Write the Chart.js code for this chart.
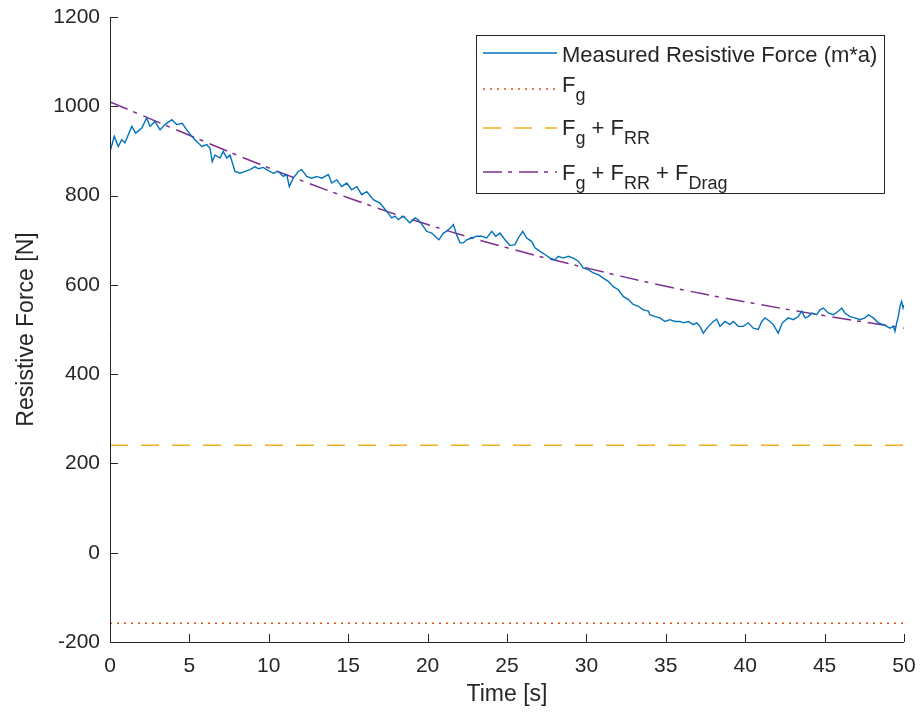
<!DOCTYPE html>
<html>
<head>
<meta charset="utf-8">
<script src="https://cdn.jsdelivr.net/npm/chart.js@4.4.1/dist/chart.umd.min.js"></script>
<style>
  html, body { margin: 0; padding: 0; background: #fff; }
</style>
</head>
<body>
<canvas id="force-chart" width="921" height="719"></canvas>
<script>
// measured resistive force (m*a)
const measuredTime = [0, 0.27, 0.52, 0.74, 0.94, 1.37, 1.62, 2.0, 2.31, 2.52, 2.83, 3.15, 3.46, 3.89, 4.2, 4.55, 4.83,
  5.14, 5.56, 5.77, 6.09, 6.3, 6.44, 6.61, 6.93, 7.13, 7.35, 7.56, 7.87, 8.19, 8.5, 8.82, 9.13, 9.34, 9.65, 9.97,
  10.28, 10.6, 10.91, 11.13, 11.29, 11.54, 11.86, 12.07, 12.39, 12.7, 13.02, 13.33, 13.75, 13.96, 14.28, 14.59, 14.91,
  15.22, 15.54, 15.85, 16.17, 16.58, 17.0, 17.42, 17.74, 17.95, 18.15, 18.47, 18.68, 18.89, 19.21, 19.41, 19.73, 19.94,
  20.26, 20.47, 20.72, 20.99, 21.2, 21.41, 21.62, 21.83, 22.04, 22.25, 22.46, 22.78, 23.09, 23.41, 23.72, 24.04, 24.29,
  24.56, 24.87, 25.19, 25.5, 25.71, 25.99, 26.24, 26.56, 26.76, 27.08, 27.39, 27.71, 28.02, 28.23, 28.54, 28.86, 29.17,
  29.49, 29.8, 30.12, 30.43, 30.75, 31.06, 31.38, 31.69, 32.01, 32.32, 32.64, 32.95, 33.27, 33.58, 33.9, 34.0, 34.32,
  34.63, 34.95, 35.26, 35.58, 35.89, 36.1, 36.42, 36.73, 36.95, 37.15, 37.36, 37.68, 37.99, 38.2, 38.41, 38.73, 39.04,
  39.25, 39.57, 39.88, 40.19, 40.51, 40.82, 41.04, 41.25, 41.56, 41.77, 42.08, 42.34, 42.71, 43.03, 43.34, 43.56, 43.77,
  43.97, 44.19, 44.5, 44.71, 44.92, 45.23, 45.55, 45.86, 46.08, 46.28, 46.6, 46.91, 47.23, 47.54, 47.75, 48.07, 48.38,
  48.7, 48.91, 49.12, 49.33, 49.43, 49.54, 49.64, 49.75, 49.85, 49.94, 50];
const measuredForce = [898, 933, 910, 925, 918, 955, 940, 951, 974, 955, 966, 947, 959, 970, 959, 962, 947,
  933, 918, 910, 914, 906, 876, 891, 884, 899, 884, 891, 854, 850, 854, 858, 865, 860, 863, 856,
  850, 854, 843, 847, 820, 839, 854, 858, 843, 839, 843, 839, 847, 828, 835, 820, 828,
  813, 820, 802, 809, 791, 783, 765, 750, 754, 746, 754, 746, 739, 750, 746, 731, 720,
  716, 709, 701, 716, 720, 727, 735, 712, 694, 694, 701, 705, 709, 709, 705, 720, 709,
  716, 701, 688, 690, 705, 720, 705, 697, 683, 675, 668, 660, 656, 664, 660, 664, 660,
  653, 638, 634, 627, 623, 615, 608, 596, 589, 574, 567, 556, 552, 544, 541, 533, 529,
  526, 518, 522, 518, 518, 515, 518, 511, 515, 507, 492, 507, 518, 523, 507, 518, 511,
  518, 507, 507, 515, 503, 500, 518, 526, 518, 511, 492, 515, 526, 522, 529, 541, 526,
  529, 537, 533, 544, 548, 537, 533, 541, 548, 537, 529, 526, 522, 526, 533, 526, 515,
  511, 507, 503, 507, 496, 515, 529, 552, 563, 548, 555];

// model: Fg + FRR + FDrag
const dragTime = [0, 5, 10, 15, 20, 25, 30, 35, 40, 45, 50];
const dragForce = [1010, 935, 862, 795, 735, 683, 638, 597, 562, 531, 503];

// constant model terms
const gravityForce = -158;
const gravityRollingForce = 241;
const timeRange = [0, 50];

const textColor = '#262626';
const blue = '#0072BD', orange = '#D95319', yellow = '#EDB120', purple = '#7E2F8E';
const fontFamily = '"Liberation Sans", Arial, sans-serif';

const toPoints = (xs, ys) => xs.map((x, i) => ({ x: x, y: ys[i] }));
const flatLine = v => timeRange.map(t => ({ x: t, y: v }));

// MATLAB-style axes: left + bottom lines with inward ticks
const axesPlugin = {
  id: 'matlabAxes',
  afterDatasetsDraw(chart) {
    const { ctx, chartArea: a, scales: { x, y } } = chart;
    ctx.save();
    ctx.strokeStyle = textColor;
    ctx.lineWidth = 1;
    ctx.beginPath();
    ctx.moveTo(a.left + 0.5, a.top);
    ctx.lineTo(a.left + 0.5, a.bottom + 0.5);
    ctx.lineTo(a.right, a.bottom + 0.5);
    x.ticks.forEach(t => {
      const px = Math.round(x.getPixelForValue(t.value)) + 0.5;
      ctx.moveTo(px, a.bottom);
      ctx.lineTo(px, a.bottom - 8);
    });
    y.ticks.forEach(t => {
      const py = Math.round(y.getPixelForValue(t.value)) + 0.5;
      ctx.moveTo(a.left, py);
      ctx.lineTo(a.left + 8, py);
    });
    ctx.stroke();
    ctx.restore();
  }
};

// legend with subscripts
const legendRows = [
  { color: blue, dash: [], parts: [['Measured Resistive Force (m*a)', false]] },
  { color: orange, dash: [2, 5], parts: [['F', false], ['g', true]] },
  { color: yellow, dash: [18, 13], parts: [['F', false], ['g', true], [' + F', false], ['RR', true]] },
  { color: purple, dash: [19, 6, 4, 7], parts: [['F', false], ['g', true], [' + F', false], ['RR', true], [' + F', false], ['Drag', true]] }
];
const legendPlugin = {
  id: 'subLegend',
  afterDraw(chart) {
    const ctx = chart.ctx;
    const box = { x: 476.5, y: 35.5, w: 408, h: 158 };
    const lineY = [53, 89, 128, 172];
    const baseY = [62, 92, 135, 180];
    ctx.save();
    ctx.fillStyle = '#fff';
    ctx.fillRect(box.x, box.y, box.w, box.h);
    ctx.strokeStyle = textColor;
    ctx.lineWidth = 1;
    ctx.strokeRect(box.x, box.y, box.w, box.h);
    legendRows.forEach((row, i) => {
      ctx.strokeStyle = row.color;
      ctx.lineWidth = 1.5;
      ctx.setLineDash(row.dash);
      ctx.beginPath();
      ctx.moveTo(483, lineY[i]);
      ctx.lineTo(557, lineY[i]);
      ctx.stroke();
      ctx.setLineDash([]);
      let tx = 562;
      ctx.fillStyle = textColor;
      ctx.textBaseline = 'alphabetic';
      row.parts.forEach(([s, sub]) => {
        ctx.font = (sub ? '18px ' : '22px ') + fontFamily;
        ctx.fillText(s, tx, baseY[i] + (sub ? 9 : 0));
        tx += ctx.measureText(s).width;
      });
    });
    ctx.restore();
  }
};

new Chart(document.getElementById('force-chart'), {
  type: 'line',
  data: {
    datasets: [
      { data: toPoints(measuredTime, measuredForce), borderColor: blue, borderWidth: 1.4, tension: 0 },
      { data: flatLine(gravityForce), borderColor: orange, borderWidth: 1.5, borderDash: [2, 5] },
      { data: flatLine(gravityRollingForce), borderColor: yellow, borderWidth: 1.5, borderDash: [18, 13] },
      { data: toPoints(dragTime, dragForce), borderColor: purple, borderWidth: 1.5, borderDash: [19, 6, 4, 7], tension: 0.4 }
    ]
  },
  options: {
    responsive: false,
    animation: false,
    layout: { padding: { left: 0, right: 17, top: 17, bottom: 0 } },
    elements: { point: { radius: 0 } },
    plugins: { legend: { display: false }, tooltip: { enabled: false } },
    scales: {
      x: {
        type: 'linear', min: 0, max: 50,
        grid: { display: false, drawTicks: false }, border: { display: false },
        ticks: { stepSize: 5, color: textColor, padding: 12, maxRotation: 0, font: { family: fontFamily, size: 21 } },
        title: { display: true, text: 'Time [s]', color: textColor, padding: { top: 0, bottom: 11 }, font: { family: fontFamily, size: 23 } },
        afterFit(s) { s.height = 77; s.paddingLeft = 0; s.paddingRight = 0; }
      },
      y: {
        min: -200, max: 1200,
        grid: { display: false, drawTicks: false }, border: { display: false },
        ticks: { stepSize: 200, color: textColor, padding: 10, callback: v => String(v), font: { family: fontFamily, size: 21 } },
        title: { display: true, text: 'Resistive Force [N]', color: textColor, padding: { top: 13, bottom: 0 }, font: { family: fontFamily, size: 23 } },
        afterFit(s) { s.width = 110; s.paddingTop = 0; s.paddingBottom = 0; }
      }
    }
  },
  plugins: [axesPlugin, legendPlugin]
});
</script>
</body>
</html>
